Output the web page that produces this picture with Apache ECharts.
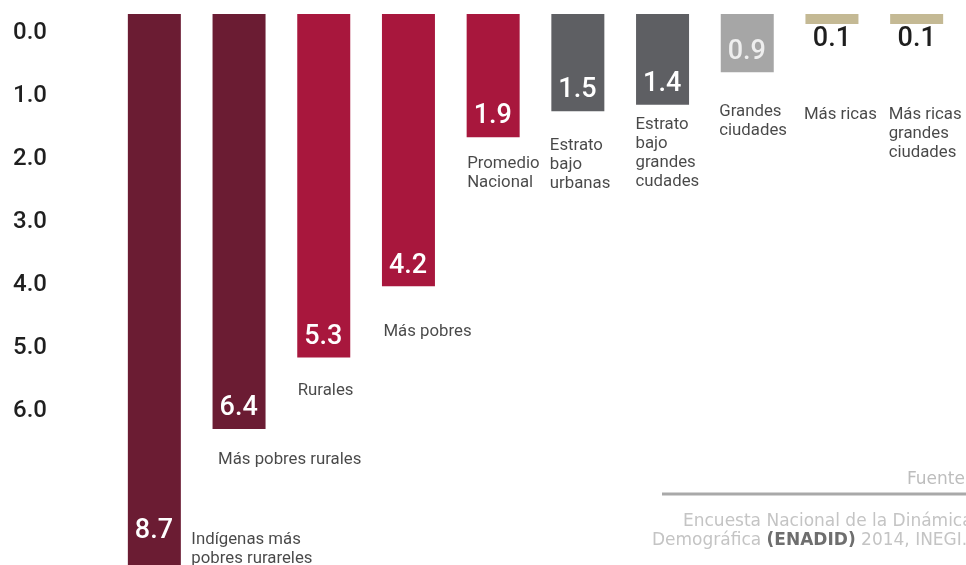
<!DOCTYPE html>
<html>
<head>
<meta charset="utf-8">
<script src="https://cdn.jsdelivr.net/npm/echarts@6/dist/echarts.min.js"></script>
<style>
  html, body { margin: 0; padding: 0; background: #ffffff; }
  #chart { width: 966px; height: 565px; }
</style>
</head>
<body>
<div id="chart"></div>
<script>
// Group names, one per bar
const categories = [
  'Indígenas más\npobres rurareles',
  'Más pobres rurales',
  'Rurales',
  'Más pobres',
  'Promedio\nNacional',
  'Estrato\nbajo\nurbanas',
  'Estrato\nbajo\ngrandes\ncudades',
  'Grandes\nciudades',
  'Más ricas',
  'Más ricas\ngrandes\nciudades'
];

// Value per group
const values = [8.7, 6.4, 5.3, 4.2, 1.9, 1.5, 1.4, 0.9, 0.1, 0.1];

// Scale ticks shown on the left
const scaleTicks = [0, 1, 2, 3, 4, 5, 6];

// Bar fill per group
const barColors = [
  '#6b1c33', '#6b1c33',
  '#a8173d', '#a8173d', '#a8173d',
  '#5e5f63', '#5e5f63',
  '#a6a6a6',
  '#c4b994', '#c4b994'
];

// Where each group name sits relative to the end of its bar [dx, dy]
const nameLabelShift = [
  [37, -48], [-21, 21], [-26, 24], [-25, 36], [-26, 17],
  [-28, 25], [-27, 11], [-28, 30], [-28, 85], [-28, 85]
];

const chart = echarts.init(document.getElementById('chart'), null, { renderer: 'canvas' });

const valueLabelFont = { fontFamily: 'Roboto', fontSize: 27, fontWeight: 500 };

const option = {
  animation: false,
  backgroundColor: '#ffffff',
  grid: [
    { left: 112, width: 847, top: 14, height: 564, outerBoundsMode: 'none', containLabel: false },
    { left: 13, width: 10, top: 33, height: 378, outerBoundsMode: 'none', containLabel: false }
  ],
  xAxis: [
    { type: 'category', gridIndex: 0, data: categories, show: false },
    { type: 'value', gridIndex: 1, show: false }
  ],
  yAxis: [
    { type: 'value', gridIndex: 0, inverse: true, min: 0, max: 8.7, show: false },
    {
      type: 'value', gridIndex: 1, inverse: true,
      min: scaleTicks[0], max: scaleTicks[scaleTicks.length - 1], interval: 1,
      axisLine: { show: false }, axisTick: { show: false }, splitLine: { show: false },
      axisLabel: {
        showMinLabel: true, showMaxLabel: true,
        align: 'left', margin: 0,
        formatter: v => v.toFixed(1),
        fontFamily: 'Roboto', fontSize: 24, fontWeight: 500, color: '#1f1f1f'
      }
    }
  ],
  series: [
    {
      type: 'bar',
      xAxisIndex: 0, yAxisIndex: 0,
      barWidth: 53,
      barMinHeight: 10,
      silent: true,
      data: values.map((v, i) => {
        const item = { value: v, itemStyle: { color: barColors[i] } };
        if (v < 0.5) {
          item.label = { position: 'bottom', distance: 2, color: '#1e1e1e' };
        } else if (v < 1) {
          item.label = { color: '#eeeeee' };
        } else if (v > 8) {
          // the tallest bar runs off the page, so its figure is lifted into view
          item.label = { offset: [0, -26] };
        }
        return item;
      }),
      label: Object.assign({
        show: true,
        position: 'insideBottomLeft',
        distance: 7,
        color: '#ffffff',
        formatter: p => p.value.toFixed(1)
      }, valueLabelFont)
    },
    {
      type: 'scatter',
      xAxisIndex: 0, yAxisIndex: 0,
      symbolSize: 0,
      silent: true,
      data: values.map((v, i) => ({ value: [i, v], label: { offset: nameLabelShift[i] } })),
      label: {
        show: true,
        position: 'bottom',
        distance: 0,
        align: 'left',
        verticalAlign: 'top',
        formatter: p => categories[p.dataIndex],
        fontFamily: 'Roboto',
        fontSize: 16.8,
        lineHeight: 19,
        color: '#1a1a1a'
      }
    }
  ],
  graphic: [
    {
      type: 'text', x: 907, y: 480,
      style: { text: 'Fuente:', font: '17px "DejaVu Sans"', fill: '#bdbdbd', verticalAlign: 'middle' }
    },
    {
      type: 'line',
      shape: { x1: 662, y1: 494, x2: 970, y2: 494 },
      style: { stroke: '#a9a9a9', lineWidth: 3 }
    },
    {
      type: 'text', x: 683, y: 522,
      style: { text: 'Encuesta Nacional de la Dinámica', font: '17px "DejaVu Sans"', fill: '#c4c4c4', verticalAlign: 'middle' }
    },
    {
      type: 'text', x: 652, y: 541,
      style: {
        text: '{a|Demográfica }{b|(ENADID)}{a| 2014, INEGI.}',
        verticalAlign: 'middle',
        rich: {
          a: { fontFamily: 'DejaVu Sans', fontSize: 17, fill: '#c4c4c4' },
          b: { fontFamily: 'DejaVu Sans', fontSize: 17, fontWeight: 'bold', fill: '#6e6e6e' }
        }
      }
    }
  ]
};

chart.setOption(option);
</script>
</body>
</html>
